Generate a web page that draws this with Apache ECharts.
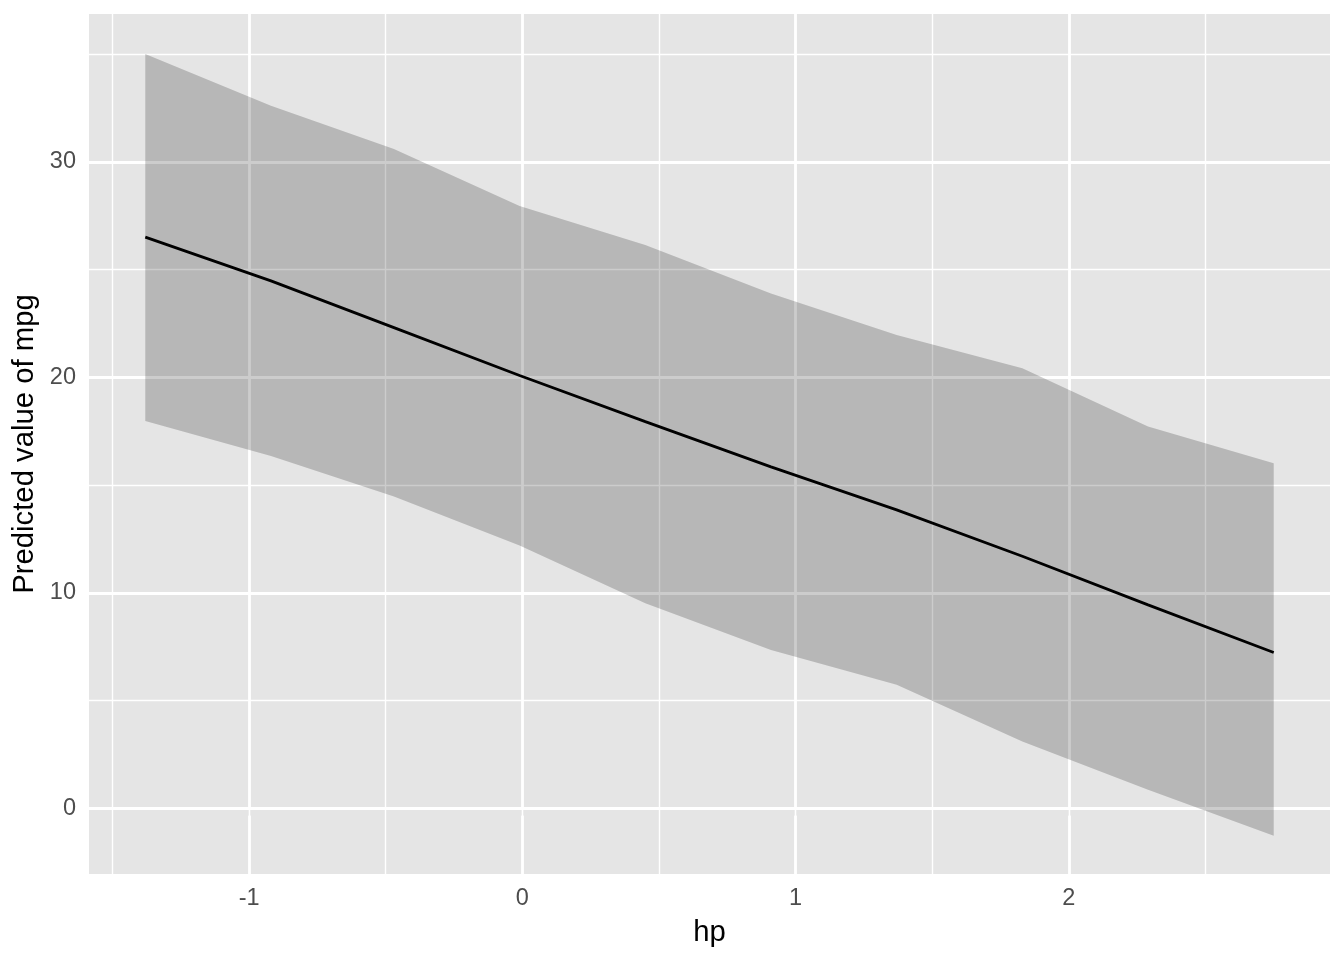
<!DOCTYPE html>
<html><head><meta charset="utf-8">
<script src="https://cdn.jsdelivr.net/npm/echarts@6/dist/echarts.min.js"></script>
<style>html,body{margin:0;padding:0;background:#fff}#c{width:1344px;height:960px}</style>
</head><body><div id="c"></div>
<script>
// ---- data ----
const hp        = [-1.38, -0.92, -0.47, -0.01, 0.45, 0.91, 1.37, 1.83, 2.29, 2.75];
const predicted = [26.51, 24.48, 22.31, 20.09, 17.95, 15.85, 13.85, 11.70, 9.44, 7.23];
const ciLow     = [17.98, 16.35, 14.47, 12.20, 9.52, 7.35, 5.73, 3.10, 0.86, -1.28];
const ciHigh    = [35.01, 32.61, 30.60, 27.96, 26.15, 23.90, 21.97, 20.43, 17.72, 16.02];
const xMajorTicks = [-1, 0, 1, 2];
const xMinorTicks = [-1.5, -0.5, 0.5, 1.5, 2.5];
const yMajorTicks = [0, 10, 20, 30];
const yMinorTicks = [5, 15, 25, 35];
const xTitle = 'hp';
const yTitle = 'Predicted value of mpg';

const font = '"Liberation Sans", Arial, Helvetica, sans-serif';
const chart = echarts.init(document.getElementById('c'), null, {renderer: 'canvas'});

const gridLines = [];
xMinorTicks.forEach(v => gridLines.push({xAxis: v, lineStyle: {width: 1.4}}));
yMinorTicks.forEach(v => gridLines.push({yAxis: v, lineStyle: {width: 1.4}}));
xMajorTicks.forEach(v => gridLines.push({xAxis: v, lineStyle: {width: 2.8}}));
yMajorTicks.forEach(v => gridLines.push({yAxis: v, lineStyle: {width: 2.8}}));

const axisCommon = {
  type: 'value',
  axisLine: {show: false},
  splitLine: {show: false},
  nameLocation: 'middle',
  nameTextStyle: {color: '#000000', fontSize: 29.3, fontFamily: font},
};

chart.setOption({
  animation: false,
  backgroundColor: '#ffffff',
  grid: {left: 89, right: 14, top: 14, bottom: 86, show: true, backgroundColor: '#E5E5E5', borderWidth: 0},
  xAxis: Object.assign({}, axisCommon, {
    min: -1.586, max: 2.956,
    name: xTitle, nameGap: 44,
    axisTick: {show: true, customValues: xMajorTicks, length: 7.3, lineStyle: {color: '#333333', width: 2.8}},
    axisLabel: {customValues: xMajorTicks, color: '#4D4D4D', fontSize: 23.5, margin: 13, fontFamily: font}
  }),
  yAxis: Object.assign({}, axisCommon, {
    min: -3.05, max: 36.87,
    name: yTitle, nameGap: 45,
    axisTick: {show: true, customValues: yMajorTicks, length: 7.3, lineStyle: {color: '#333333', width: 2.8}},
    axisLabel: {customValues: yMajorTicks, color: '#4D4D4D', fontSize: 23.5, margin: 13, fontFamily: font}
  }),
  series: [
    {
      type: 'line', data: [], z: 1, silent: true,
      markLine: {
        z: 1, silent: true, symbol: 'none', animation: false,
        label: {show: false},
        lineStyle: {color: '#ffffff', type: 'solid'},
        emphasis: {disabled: true},
        data: gridLines
      }
    },
    {
      type: 'custom', z: 10, silent: true,
      data: hp.map((x, i) => [x, ciLow[i], ciHigh[i]]),
      encode: {x: 0, y: [1, 2]},
      renderItem: function (params, api) {
        if (params.dataIndex !== 0) return null;
        const pts = [];
        for (let i = 0; i < hp.length; i++) pts.push(api.coord([hp[i], ciHigh[i]]));
        for (let i = hp.length - 1; i >= 0; i--) pts.push(api.coord([hp[i], ciLow[i]]));
        return {type: 'polygon', shape: {points: pts}, style: {fill: 'rgba(0,0,0,0.2)'}};
      }
    },
    {
      type: 'line', z: 11, silent: true,
      data: hp.map((x, i) => [x, predicted[i]]),
      showSymbol: false, symbol: 'none',
      lineStyle: {color: '#000000', width: 2.8}
    }
  ]
});
</script></body></html>
